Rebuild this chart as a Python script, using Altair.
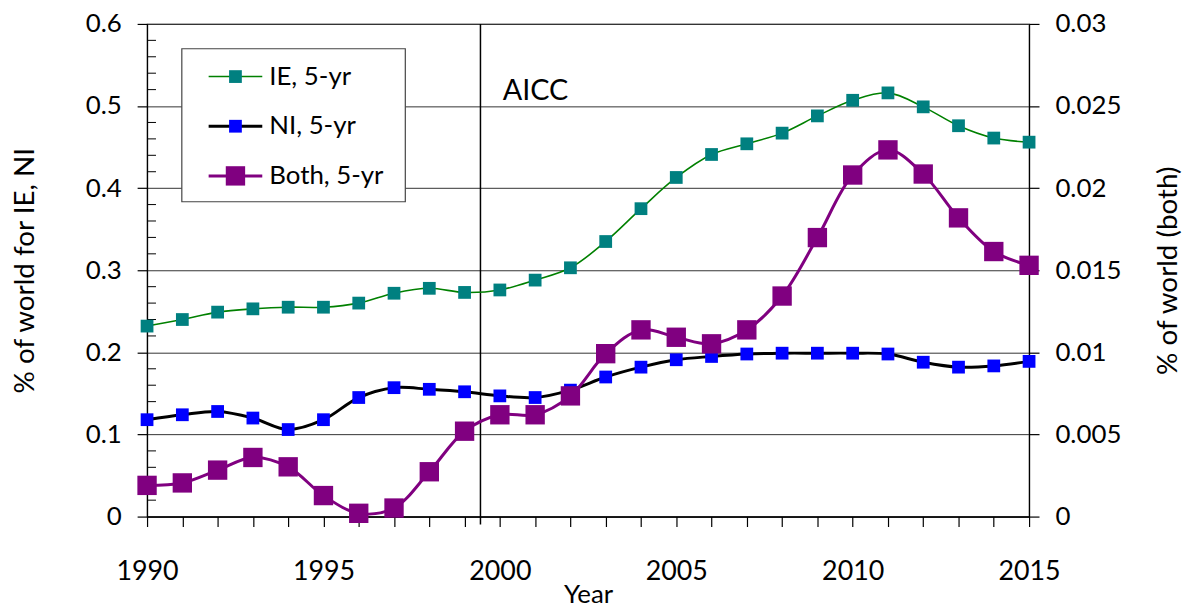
import altair as alt
import pandas as pd

years = list(range(1990, 2016))
ie_share = [0.232, 0.240, 0.249, 0.253, 0.255, 0.255, 0.260, 0.272, 0.278, 0.273,
            0.276, 0.288, 0.303, 0.335, 0.375, 0.413, 0.441, 0.454, 0.467, 0.488,
            0.507, 0.516, 0.499, 0.476, 0.461, 0.456]
ni_share = [0.118, 0.124, 0.128, 0.120, 0.106, 0.118, 0.145, 0.157, 0.155, 0.152,
            0.147, 0.145, 0.154, 0.170, 0.182, 0.191, 0.195, 0.198, 0.199, 0.199,
            0.199, 0.198, 0.188, 0.182, 0.1835, 0.189]
both_share = [0.0019, 0.00205, 0.00283, 0.0036, 0.00303, 0.00128, 0.0002, 0.00052,
              0.00273, 0.0052, 0.0062, 0.0062, 0.00735, 0.00992, 0.01137, 0.01092,
              0.01052, 0.01137, 0.01343, 0.01699, 0.0208, 0.02233, 0.02086, 0.01819,
              0.01614, 0.0153]
aicc_year = [1999.45]
aicc_label = "AICC"
left_ticks = [0, 0.1, 0.2, 0.3, 0.4, 0.5, 0.6]
left_minor = [round(i * 0.02, 2) for i in range(31) if i % 5 != 0]
right_ticks = [0, 0.005, 0.01, 0.015, 0.02, 0.025, 0.03]
legend_labels = ["IE, 5-yr", "NI, 5-yr", "Both, 5-yr"]

FONT = "Lato"
W, H = 888, 496

df = pd.DataFrame({"year": years, "ie": ie_share, "ni": ni_share, "both": both_share})
minor_df = pd.DataFrame({"v": left_minor})
aicc_df = pd.DataFrame({"year": aicc_year})

xenc = alt.X("year:Q",
             scale=alt.Scale(domain=[1990, 2015], nice=False, zero=False),
             axis=alt.Axis(values=years, format="d",
                           labelExpr="datum.value % 5 == 0 ? datum.label : ''",
                           tickSize=10, labelPadding=32, labelFontSize=27,
                           labelFlush=False, labelOverlap=False,
                           title="Year", titleFontSize=26,
                           titleBaseline="alphabetic", titleY=87, grid=False))

left_scale = alt.Scale(domain=[0, 0.6], nice=False, zero=True)
left_axis = alt.Axis(values=left_ticks, format=".1~f", tickSize=10, labelPadding=16,
                     labelFontSize=26, title="% of world for IE, NI", titleFontSize=28,
                     titlePadding=46, grid=True, gridColor="#333333", gridWidth=1,
                     orient="left")

def ly(field):
    return alt.Y(f"{field}:Q", scale=left_scale, axis=left_axis)

base = alt.Chart(df)

ie_line = base.mark_line(color="#008000", strokeWidth=1.6, interpolate="catmull-rom").encode(x=xenc, y=ly("ie"))
ie_pts = base.mark_square(color="#008080", size=165, opacity=1).encode(x=xenc, y=ly("ie"))
ni_line = base.mark_line(color="#000000", strokeWidth=3, interpolate="catmull-rom").encode(x=xenc, y=ly("ni"))
ni_pts = base.mark_square(color="#0000FF", size=165, opacity=1).encode(x=xenc, y=ly("ni"))

minor = alt.Chart(minor_df).mark_rule(color="black", strokeWidth=1).encode(
    y=ly("v"), x=alt.value(0), x2=alt.value(9))

aicc_rule = alt.Chart(aicc_df).mark_rule(color="black", strokeWidth=1.5).encode(
    x=xenc, y=alt.value(0), y2=alt.value(H + 8))

left = alt.layer(minor, aicc_rule, ie_line, ie_pts, ni_line, ni_pts)

right_y = alt.Y("both:Q", scale=alt.Scale(domain=[0, 0.03], nice=False, zero=True),
                axis=alt.Axis(values=right_ticks, format=".3~f", orient="right",
                              tickSize=10, labelPadding=16, labelFontSize=26,
                              title="% of  world (both)", titleFontSize=28,
                              titleAngle=270, titlePadding=62, grid=False))
both_line = base.mark_line(color="#800080", strokeWidth=3, interpolate="catmull-rom").encode(x=xenc, y=right_y)
both_pts = base.mark_square(color="#800080", size=380, opacity=1).encode(x=xenc, y=right_y)
right = alt.layer(both_line, both_pts)

# annotation and legend
one = pd.DataFrame({"k": [0]})
aicc_text = alt.Chart(one).mark_text(text=aicc_label, font=FONT, fontSize=29, align="left",
                                     baseline="middle", color="black").encode(
    x=alt.value(358), y=alt.value(68))

leg_box = alt.Chart(one).mark_rect(fill="white", stroke="#444444", strokeWidth=1.2).encode(
    x=alt.value(35), x2=alt.value(260), y=alt.value(25), y2=alt.value(179))

legend_style = [("#008000", 1.6, "#008080", 165),
                ("#000000", 3, "#0000FF", 165),
                ("#800080", 3, "#800080", 380)]
leg_layers = [leg_box]
for i, (lab, (lc, lw, mc, ms)) in enumerate(zip(legend_labels, legend_style)):
    yy = 53 + 50 * i
    d = pd.DataFrame({"label": [lab]})
    leg_layers.append(alt.Chart(d).mark_rule(color=lc, strokeWidth=lw).encode(
        x=alt.value(62), x2=alt.value(116), y=alt.value(yy)))
    leg_layers.append(alt.Chart(d).mark_square(color=mc, size=ms, opacity=1).encode(
        x=alt.value(89), y=alt.value(yy)))
    leg_layers.append(alt.Chart(d).mark_text(font=FONT, fontSize=26, align="left",
                                             baseline="middle", color="black").encode(
        x=alt.value(123), y=alt.value(yy), text="label:N"))

legend = alt.layer(aicc_text, *leg_layers)

chart = alt.layer(left, right, legend).resolve_scale(y="independent").properties(
    width=W, height=H,
    autosize=alt.AutoSizeParams(type="none"),
    padding={"left": 140, "top": 14, "right": 159, "bottom": 90},
    background="white",
).configure_view(stroke="black", strokeWidth=1.2).configure_axis(
    labelFont=FONT, titleFont=FONT, labelColor="black", titleColor="black",
    titleFontWeight="normal", domainColor="black", tickColor="black",
    domainWidth=1.2, tickWidth=1.2,
)

chart.save("out.html", embed_options={"renderer": "svg", "actions": False})
